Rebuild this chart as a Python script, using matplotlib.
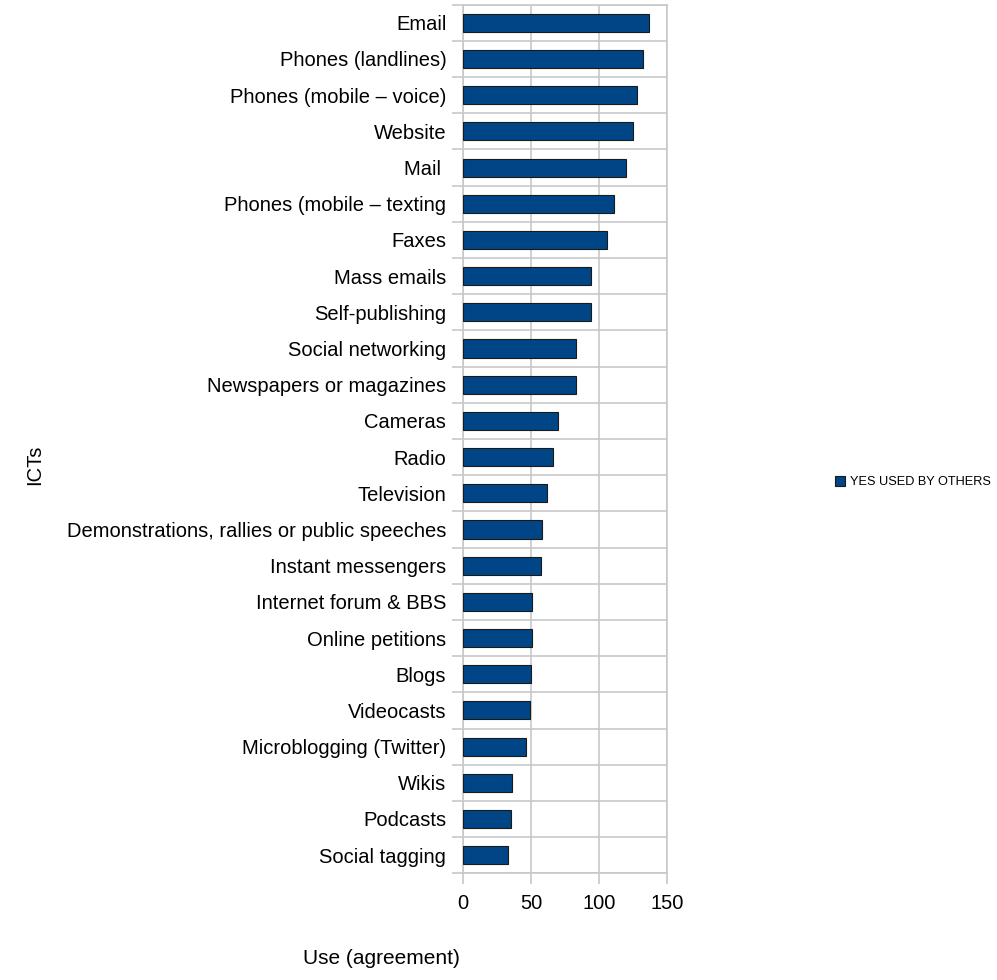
import numpy as np
import matplotlib
matplotlib.use('Agg')
import matplotlib.pyplot as plt
from matplotlib.patches import Patch

plt.rcParams['font.family'] = ['Liberation Sans', 'DejaVu Sans']

# Data (top to bottom as in the chart)
categories = [
    'Email', 'Phones (landlines)', 'Phones (mobile \u2013 voice)', 'Website',
    'Mail ', 'Phones (mobile \u2013 texting', 'Faxes', 'Mass emails',
    'Self-publishing', 'Social networking', 'Newspapers or magazines',
    'Cameras', 'Radio', 'Television',
    'Demonstrations, rallies or public speeches', 'Instant messengers',
    'Internet forum & BBS', 'Online petitions', 'Blogs', 'Videocasts',
    'Microblogging (Twitter)', 'Wikis', 'Podcasts', 'Social tagging',
]
values = [137, 132, 128, 125, 120, 111, 106, 94, 94, 83, 83,
          70, 66, 62, 58, 57, 51, 51, 50, 49, 46, 36, 35, 33]
series_name = 'YES USED BY OTHERS'
x_ticks = [0, 50, 100, 150]

bar_color = '#004586'
grid_color = '#c8c8c8'
fs = 14.5

fig = plt.figure(figsize=(9.97, 9.80), dpi=100)
ax = fig.add_axes([0.4644, 0.1089, 0.2046, 0.8863])

n = len(categories)
y = np.arange(n)
ax.barh(y, values, height=0.5, color=bar_color, edgecolor='#1a1a1a',
        linewidth=0.8, zorder=3)

ax.set_ylim(n - 0.5, -0.5)
ax.set_xlim(0, 150)

# category labels at bar centres, grid lines between categories
ax.set_yticks(y)
ax.set_yticklabels(categories, fontsize=fs)
ax.set_yticks(np.arange(n + 1) - 0.5, minor=True)
ax.tick_params(axis='y', which='major', length=0, pad=12)
ax.tick_params(axis='y', which='minor', length=8, color=grid_color, width=1.2)
ax.yaxis.grid(True, which='minor', color=grid_color, linewidth=1.2, zorder=0)

ax.set_xticks(x_ticks)
ax.set_xticklabels([str(t) for t in x_ticks], fontsize=fs)
ax.tick_params(axis='x', length=8, color=grid_color, width=1.2, pad=7)
ax.xaxis.grid(True, color=grid_color, linewidth=1.2, zorder=0)

for side in ['top', 'bottom', 'left', 'right']:
    ax.spines[side].set_color(grid_color)
    ax.spines[side].set_linewidth(1.2)

fig.text(35 / 997, 1 - 465 / 980, 'ICTs', rotation=90, fontsize=fs,
         ha='center', va='center')
fig.text(381 / 997, 1 - 958 / 980, 'Use (agreement)', fontsize=15,
         ha='center', va='center')

handle = Patch(facecolor=bar_color, edgecolor='#1a1a1a', linewidth=0.8)
fig.legend([handle], [series_name], loc='center left',
           bbox_to_anchor=(830 / 997, 1 - 482 / 980), frameon=False,
           fontsize=9.2, handlelength=0.8, handleheight=0.8,
           handletextpad=0.4, borderaxespad=0)

fig.savefig('out.png', dpi=100, facecolor='white')
plt.close(fig)
